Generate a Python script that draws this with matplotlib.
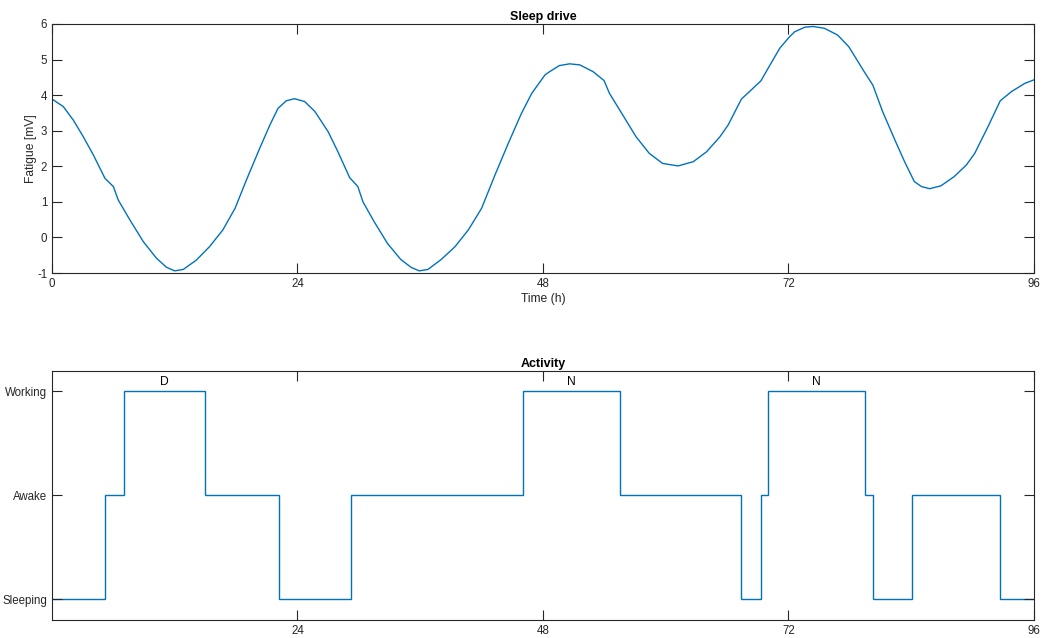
import numpy as np
import matplotlib
matplotlib.use("Agg")
import matplotlib.pyplot as plt

plt.rcParams['font.family'] = ['Liberation Sans', 'DejaVu Sans']
plt.rcParams['axes.unicode_minus'] = False

# sleep drive curve
t_fatigue = [0, 1.1, 2.08, 3.06, 4.04, 5.18, 6.0, 6.48, 7.62, 8.93, 10.23, 11.2, 12.0, 12.83,
             14.1, 15.4, 16.7, 17.9, 19.0, 20.3, 21.3, 22.1, 22.9, 23.7, 24.7, 25.7, 27.0,
             27.95, 29.1, 29.9, 30.4, 31.5, 32.8, 34.1, 35.1, 35.9, 36.75, 38.05, 39.4, 40.7,
             42.0, 43.3, 44.6, 45.9, 46.9, 48.2, 48.65, 49.6, 50.6, 51.6, 52.9, 53.97, 54.5,
             55.8, 57.1, 58.4, 59.7, 61.2, 62.7, 64.0, 65.3, 66.1, 67.4, 68.3, 69.3, 70.2,
             71.15, 72.1, 72.6, 73.6, 74.4, 75.5, 76.8, 77.9, 78.5, 79.4, 80.25, 81.2, 82.4,
             83.35, 84.3, 85.0, 85.8, 86.9, 88.2, 89.4, 90.2, 91.5, 92.7, 93.8, 95.1, 96.0]
fatigue = [3.89, 3.68, 3.30, 2.83, 2.32, 1.66, 1.43, 1.05, 0.49, -0.12, -0.59, -0.84, -0.94, -0.90,
           -0.64, -0.26, 0.21, 0.82, 1.61, 2.50, 3.16, 3.63, 3.84, 3.90, 3.82, 3.54, 2.97,
           2.41, 1.68, 1.43, 1.00, 0.44, -0.17, -0.62, -0.84, -0.94, -0.90, -0.62, -0.26, 0.21,
           0.82, 1.75, 2.64, 3.49, 4.05, 4.57, 4.66, 4.83, 4.88, 4.85, 4.66, 4.41, 4.05,
           3.44, 2.83, 2.36, 2.08, 2.01, 2.13, 2.41, 2.83, 3.16, 3.89, 4.13, 4.40, 4.85,
           5.32, 5.64, 5.78, 5.91, 5.93, 5.88, 5.69, 5.36, 5.08, 4.66, 4.28, 3.54, 2.74,
           2.13, 1.57, 1.43, 1.37, 1.45, 1.71, 2.04, 2.36, 3.11, 3.84, 4.10, 4.33, 4.43]

# activity: 0 sleeping, 1 awake, 2 working
act_edges = [0, 5.2, 7.0, 15.0, 22.2, 29.2, 46.0, 55.5, 67.35, 69.3, 70.0, 79.5, 80.3, 84.1, 92.7, 96]
act_state = [0, 1, 2, 1, 0, 1, 2, 1, 0, 1, 2, 1, 0, 1, 0]
act_labels = ['Sleeping', 'Awake', 'Working']
shift_labels = ['D', 'N', 'N']
shift_centers = [11.0, 50.75, 74.75]

blue = '#0072BD'
edge = '#262626'

fig = plt.figure(figsize=(10.44, 6.38), dpi=100)

def style(ax):
    for s in ax.spines.values():
        s.set_color(edge)
        s.set_linewidth(0.8)
    ax.tick_params(direction='in', length=7, width=0.8, color=edge, labelcolor=edge,
                   labelsize=8.3, pad=3.5, top=True, right=True)

ax1 = fig.add_axes([0.0498, 0.5721, 0.9406, 0.3903])
ax1.plot(t_fatigue, fatigue, color=blue, lw=1.0)
ax1.set_xlim(0, 96)
ax1.set_ylim(-1, 6)
ax1.set_xticks([0, 24, 48, 72, 96])
ax1.set_yticks(range(-1, 7))
ax1.set_xlabel('Time (h)', fontsize=8.7, color=edge, labelpad=2)
ax1.set_ylabel('Fatigue [mV]', fontsize=8.7, color=edge)
ax1.yaxis.set_label_coords(-0.0153, 0.5)
ax1.set_title('Sleep drive', fontsize=9, fontweight='bold', pad=3)
style(ax1)

ax2 = fig.add_axes([0.0498, 0.0282, 0.9406, 0.3908])
ax2.stairs(act_state, act_edges, color=blue, lw=1.0, baseline=None)
ax2.set_xlim(0, 96)
ax2.set_ylim(-0.2, 2.2)
ax2.set_xticks([24, 48, 72, 96])
ax2.set_yticks([0, 1, 2])
ax2.set_yticklabels(act_labels)
ax2.set_title('Activity', fontsize=9, fontweight='bold', pad=3)
for lab, xc in zip(shift_labels, shift_centers):
    ax2.text(xc, 2.03, lab, ha='center', va='bottom', fontsize=8.7, color='black')
style(ax2)

fig.savefig('out.png', dpi=100)
